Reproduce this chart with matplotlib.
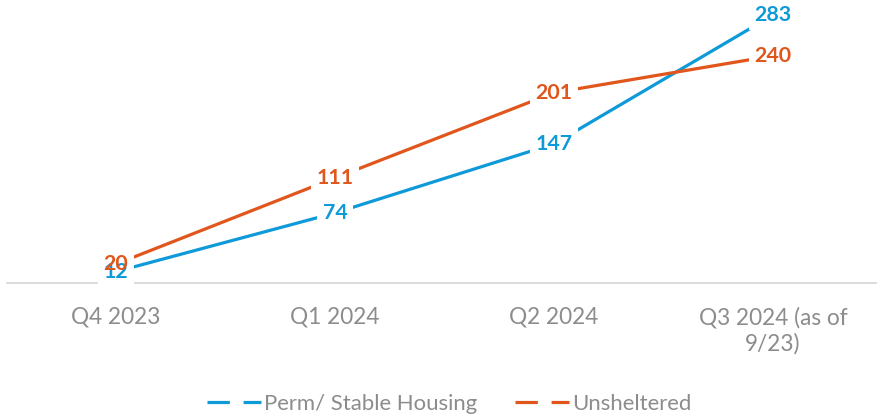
import matplotlib
matplotlib.use("Agg")
import matplotlib.pyplot as plt
from matplotlib.lines import Line2D

categories = ["Q4 2023", "Q1 2024", "Q2 2024", "Q3 2024 (as of\n9/23)"]
perm_stable = [12, 74, 147, 283]
unsheltered = [20, 111, 201, 240]

BLUE = "#0E9AD8"
ORANGE = "#E0561C"
GREY = "#8C8C8C"

plt.rcParams['font.family'] = ['Lato', 'DejaVu Sans']

fig = plt.figure(figsize=(8.77, 4.15), dpi=100)
W, H = 877, 415
left_px, right_px = 6.5, 882.5
top_px, bot_px = -1, 283
ax = fig.add_axes([left_px / W, 1 - bot_px / H, (right_px - left_px) / W, (bot_px - top_px) / H])

x = list(range(len(categories)))
ax.plot(x, perm_stable, color=BLUE, lw=2.3, solid_capstyle='butt', zorder=3)
ax.plot(x, unsheltered, color=ORANGE, lw=2.3, solid_capstyle='butt', zorder=3)

LBL = 15.4
for series, col, z in [(perm_stable, BLUE, 6), (unsheltered, ORANGE, 7)]:
    for xi, v in zip(x, series):
        # white background box (drawn below all label texts)
        ax.text(xi, v, str(v), color='none', fontsize=LBL, fontweight='bold', ha='center', va='center',
                zorder=4, bbox=dict(boxstyle='square,pad=0.25', fc='white', ec='none'))
        ax.text(xi, v, str(v), color=col, fontsize=LBL, fontweight='bold', ha='center', va='center',
                zorder=z)

ax.set_xlim(-0.5, len(categories) - 0.5)
ax.set_ylim(0, 300)
ax.set_xticks(x)
ax.set_xticklabels(categories, fontsize=16.3, color=GREY, linespacing=1.3)
ax.tick_params(axis='x', length=0, pad=17)
ax.set_yticks([])
for s in ['top', 'right', 'left']:
    ax.spines[s].set_visible(False)
ax.spines['bottom'].set_color('#D9D9D9')
ax.spines['bottom'].set_linewidth(1.3)
ax.spines['bottom'].set_zorder(1)

handles = [Line2D([], [], color=BLUE, lw=2.3, dashes=(7, 4.3), dash_capstyle='butt'),
           Line2D([], [], color=ORANGE, lw=2.3, dashes=(7, 4.3), dash_capstyle='butt')]
fig.legend(handles, ["Perm/ Stable Housing", "Unsheltered"], loc='center',
           bbox_to_anchor=(449 / W, 1 - 404 / H), ncol=2, frameon=False,
           fontsize=15.9, labelcolor=GREY, handlelength=2.45, handletextpad=0.15,
           columnspacing=1.7, borderpad=0, borderaxespad=0)

fig.savefig("out.png", dpi=100)
